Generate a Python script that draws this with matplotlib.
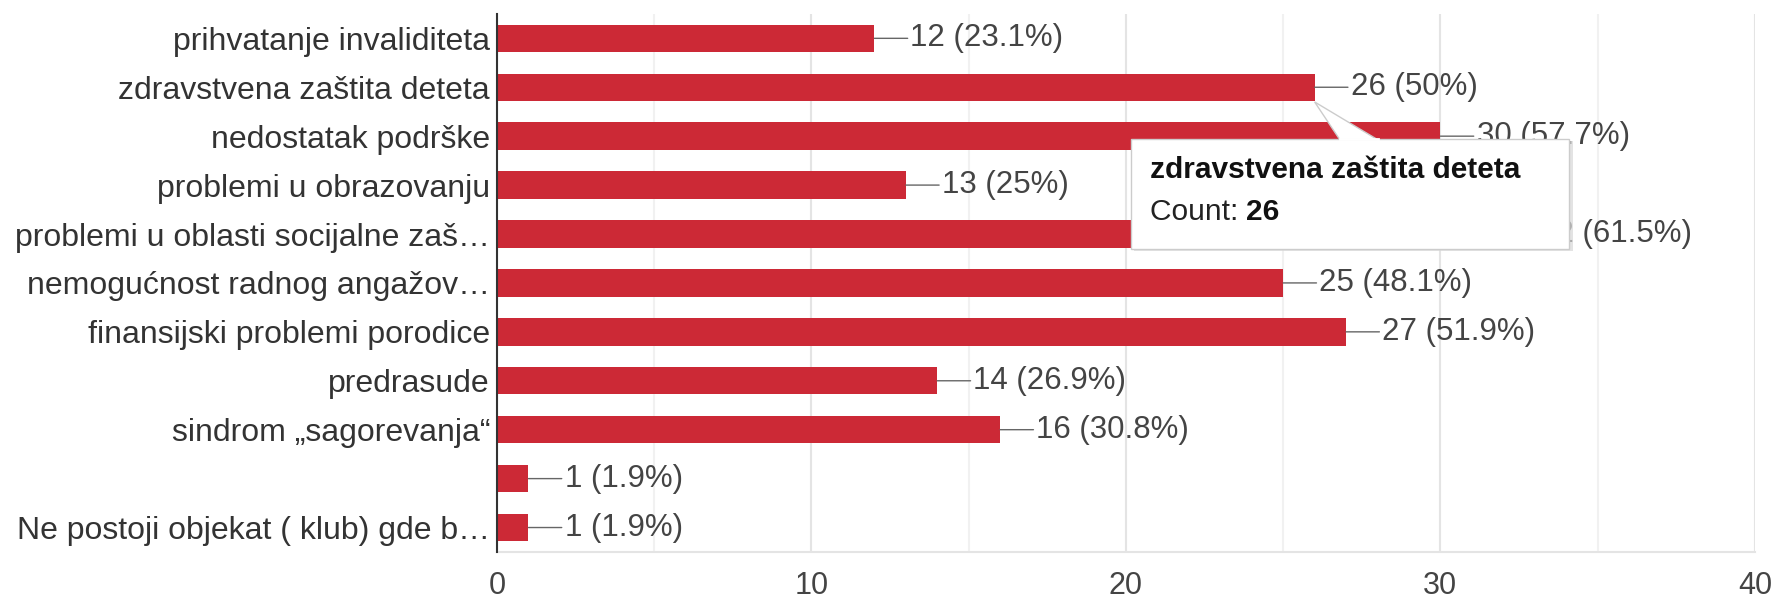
import matplotlib
import matplotlib.pyplot as plt
from matplotlib.patches import Polygon, FancyBboxPatch
from matplotlib.ticker import MultipleLocator
matplotlib.use('Agg')

# answers and counts, top to bottom
categories = [
    'prihvatanje invaliditeta',
    'zdravstvena zaštita deteta',
    'nedostatak podrške',
    'problemi u obrazovanju',
    'problemi u oblasti socijalne zaš…',
    'nemogućnost radnog angažov…',
    'finansijski problemi porodice',
    'predrasude',
    'sindrom „sagorevanja“',
    '',
    'Ne postoji objekat ( klub) gde b…',
]
counts = [12, 26, 30, 13, 32, 25, 27, 14, 16, 1, 1]
percents = ['23.1%', '50%', '57.7%', '25%', '61.5%', '48.1%', '51.9%', '26.9%', '30.8%', '1.9%', '1.9%']
x_ticks = [0, 10, 20, 30, 40]

# the hovered bar and its tooltip
hover_index = 1

BAR_COLOR = '#cc2936'
TEXT_COLOR = '#333333'

plt.rcParams['font.family'] = ['Liberation Sans', 'DejaVu Sans']

fig = plt.figure(figsize=(17.78, 6.03), dpi=100)
ax = fig.add_axes([0.2795, 0.0846, 0.7075, 0.8924])

y_pos = list(range(len(categories)))
ax.barh(y_pos, counts, height=0.56, color=BAR_COLOR, zorder=3)

# leader line + value label
for y, c, p in zip(y_pos, counts, percents):
    ax.annotate(f'{c} ({p})', xy=(c, y), xytext=(26, 0), textcoords='offset points',
                ha='left', va='center', fontsize=22.5, color='#444444',
                arrowprops=dict(arrowstyle='-', color='#666666', lw=1.0,
                                shrinkA=0, shrinkB=0),
                zorder=4)

ax.set_xlim(0, 40)
ax.set_ylim(len(categories) - 0.5, -0.5)
ax.set_yticks(y_pos)
ax.set_yticklabels(categories, fontsize=23, color=TEXT_COLOR)
ax.set_xticks(x_ticks)
ax.set_xticklabels([str(t) for t in x_ticks], fontsize=22, color='#444444')
ax.xaxis.set_minor_locator(MultipleLocator(5))
ax.tick_params(axis='y', length=0, pad=5)
ax.tick_params(axis='x', which='both', length=0, pad=14)

ax.grid(axis='x', which='major', color='#e4e4e4', lw=1.5, zorder=0)
ax.grid(axis='x', which='minor', color='#f1f1f1', lw=1.5, zorder=0)
for side in ['top', 'right']:
    ax.spines[side].set_visible(False)
ax.spines['bottom'].set_color('#e4e4e4')
ax.spines['bottom'].set_linewidth(1.5)
ax.spines['left'].set_color('#333333')
ax.spines['left'].set_linewidth(1.5)
ax.spines['left'].set_zorder(5)

# tooltip for hovered bar
hx = counts[hover_index]
box_x0, box_x1 = hx - 5.85, hx + 8.1
box_y0, box_y1 = hover_index + 1.05, hover_index + 3.3
shadow = FancyBboxPatch((box_x0 + 0.12, box_y0 + 0.05), box_x1 - box_x0, box_y1 - box_y0,
                        boxstyle='square,pad=0', facecolor='#d8d8d8', edgecolor='none',
                        alpha=0.7, zorder=6)
box = FancyBboxPatch((box_x0, box_y0), box_x1 - box_x0, box_y1 - box_y0,
                     boxstyle='square,pad=0', facecolor='white', edgecolor='#cccccc',
                     lw=1, zorder=7)
ax.add_patch(shadow)
ax.add_patch(box)
pointer = Polygon([(hx, hover_index + 0.3), (hx + 0.8, box_y0 + 0.02), (hx + 2.0, box_y0 + 0.02)],
                  closed=True, facecolor='white', edgecolor='#cccccc', lw=1, zorder=8)
ax.add_patch(pointer)
ax.plot([hx + 0.8, hx + 2.0], [box_y0, box_y0], color='white', lw=2, zorder=9)
ax.text(box_x0 + 0.6, hover_index + 1.7, categories[hover_index], fontsize=21.5,
        fontweight='bold', color='#111111', va='center', ha='left', zorder=10)
cnt = ax.text(box_x0 + 0.6, hover_index + 2.55, 'Count: ', fontsize=21.5,
              color='#222222', va='center', ha='left', zorder=10)
ax.annotate(str(counts[hover_index]), xycoords=cnt, xy=(1, 0.5), va='center', ha='left',
            fontsize=21.5, fontweight='bold', color='#111111', zorder=10)

fig.savefig('out.png', dpi=100, facecolor='white')
